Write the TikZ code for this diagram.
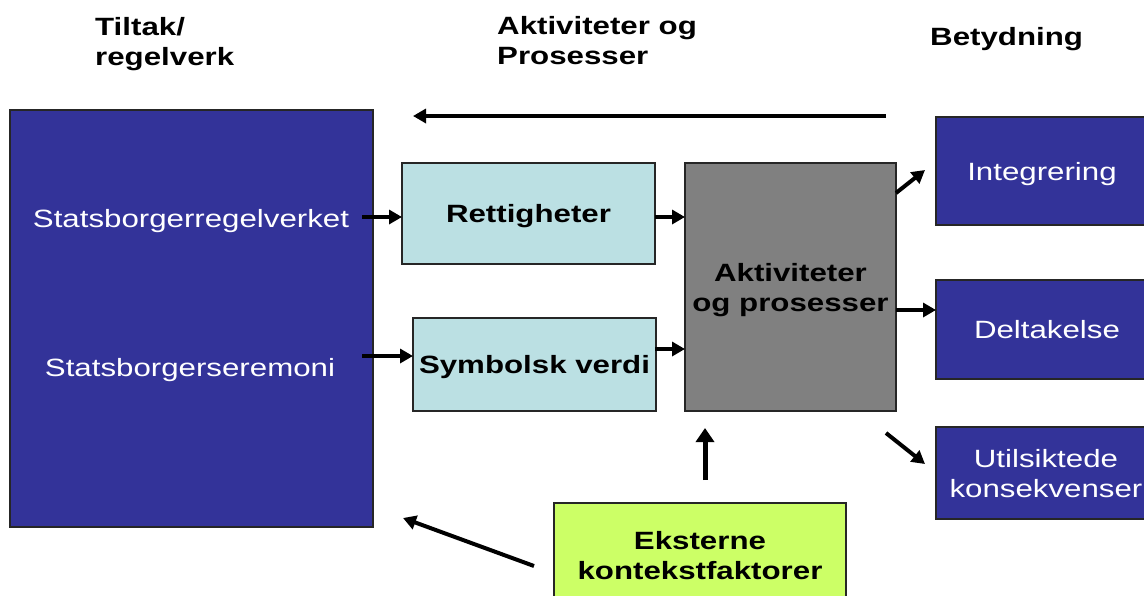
\documentclass[tikz,border=0pt]{standalone}
\usepackage{fontspec}
\setmainfont{Liberation Sans}[FakeStretch=1.25]
\usetikzlibrary{arrows.meta}
\definecolor{dblue}{HTML}{333399}
\definecolor{lcyan}{HTML}{BBE0E3}
\definecolor{mgray}{HTML}{808080}
\definecolor{lgreen}{HTML}{CCFF66}
\tikzset{
  base/.style={anchor=north west,inner sep=0pt,outer sep=0pt,draw=black!85,line width=1.2pt,align=center,text depth=0pt,font=\fontsize{25}{30}\selectfont},
  bluebox/.style={base,fill=dblue,text=white},
  cyanbox/.style={base,fill=lcyan,font=\fontsize{25}{30}\selectfont\bfseries},
  graybox/.style={base,fill=mgray,font=\fontsize{25}{30}\selectfont\bfseries},
  greenbox/.style={base,fill=lgreen,font=\fontsize{25}{30}\selectfont\bfseries},
  title/.style={anchor=north west,inner sep=0pt,align=left,font=\fontsize{25}{30}\selectfont\bfseries},
  wtext/.style={inner sep=0pt,text=white,text depth=0pt,font=\fontsize{25}{30}\selectfont},
  arr/.style={line width=4pt,-{Triangle[length=13pt,width=14pt]}},
}
\begin{document}
\begin{tikzpicture}[x=1pt,y=-1pt]
\useasboundingbox (0,0) rectangle (1144,595);
\clip (0,0) rectangle (1144,595);
\fill[white] (0,0) rectangle (1144,595);
% titles
\node[title] (t1) at (95,17) {Tiltak/\\regelverk};
\node[title] (t2) at (497,16) {Aktiviteter og\\Prosesser};
\node[title] (t3) at (930,27) {Betydning};
% boxes
\node[bluebox,minimum width=363pt,minimum height=417pt] (left) at (10,110) {};
\node[wtext] (reg) at (191,218) {Statsborgerregelverket};
\node[wtext] (cer) at (190,367) {Statsborgerseremoni};
\node[cyanbox,minimum width=253pt,minimum height=101pt] (ret) at (402,163) {Rettigheter};
\node[cyanbox,minimum width=243pt,minimum height=93pt] (sym) at (413,318) {Symbolsk verdi};
\node[graybox,minimum width=211pt,minimum height=248pt] (akt) at (685,163) {Aktiviteter\\og prosesser};
\node[bluebox,minimum width=212pt,minimum height=108pt] (int) at (936,117) {Integrering};
\node[bluebox,minimum width=222pt,minimum height=99pt] (del) at (936,280) {Deltakelse};
\node[bluebox,minimum width=220pt,minimum height=92pt] (uts) at (936,427) {Utilsiktede\\konsekvenser};
\node[greenbox,minimum width=292pt,minimum height=104pt] (eks) at (554,503) {Eksterne\\kontekstfaktorer};
% free arrow ends
\coordinate (topA) at (886,116);
\coordinate (topB) at (413,116);
\coordinate (r1) at (362,217);
\coordinate (c1) at (362,356);
\coordinate (s1) at (655,349);
\coordinate (i1) at (896,193);
\coordinate (i2) at (925,170);
\coordinate (d1) at (896,310);
\coordinate (u1) at (886,433);
\coordinate (u2) at (925,464);
\coordinate (up1) at (705,480);
\coordinate (up2) at (705,428);
\coordinate (g1) at (534,566);
\coordinate (g2) at (403,518);
% arrows
\draw[arr,line width=3.5pt] (topA) -- (topB);
\draw[arr] (r1) -- (r1 -| ret.west);
\draw[arr] (c1) -- (c1 -| sym.west);
\draw[arr] (ret.east |- r1) -- (akt.west |- r1);
\draw[arr] (s1) -- (s1 -| akt.west);
\draw[arr] (i1) -- (i2);
\draw[arr] (d1) -- (del.west |- d1);
\draw[arr] (u1) -- (u2);
\draw[line width=5pt,-{Triangle[length=14pt,width=18pt]}] (up1) -- (up2);
\draw[arr] (g1) -- (g2);
\end{tikzpicture}
\end{document}
